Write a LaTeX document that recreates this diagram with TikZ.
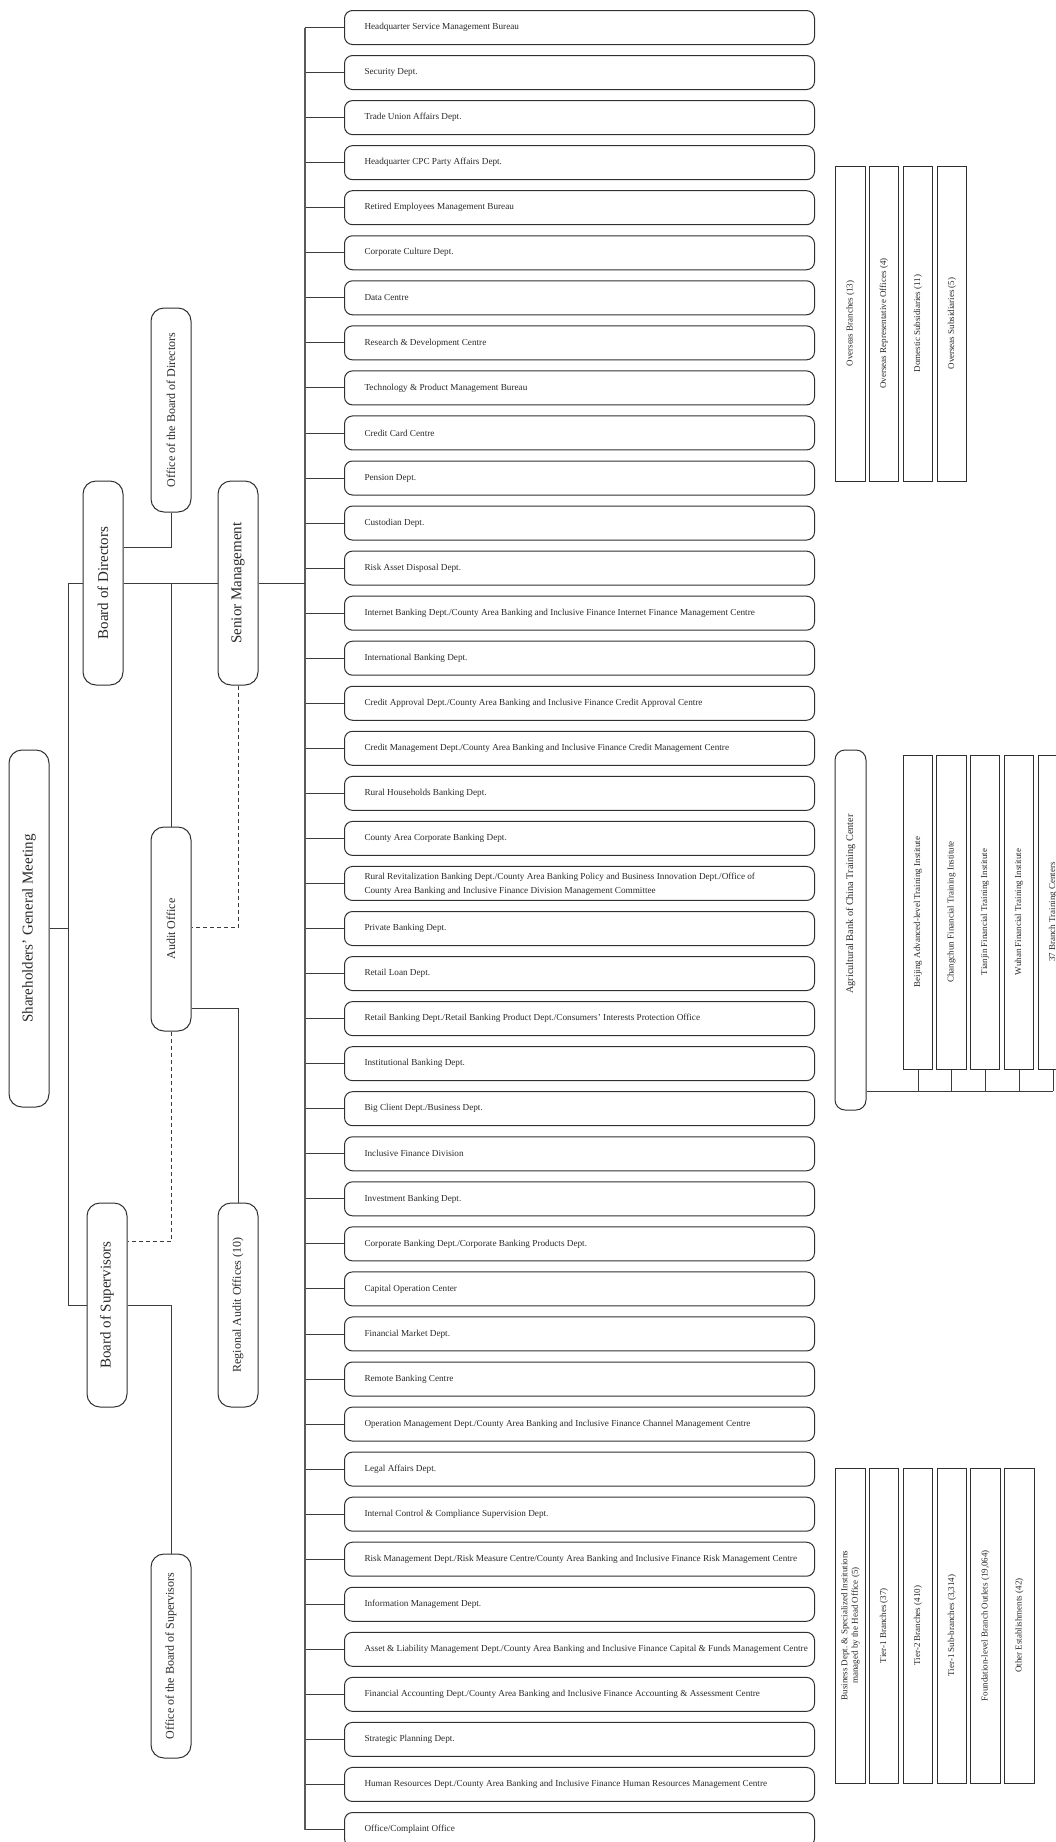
\documentclass[tikz,border=0pt]{standalone}
\usepackage{fontspec}
\usepackage{graphicx}
\setmainfont{Liberation Serif}
\frenchspacing
\definecolor{lncol}{HTML}{3C3C3C}
\definecolor{boxcol}{HTML}{303030}
\definecolor{buscol}{HTML}{5A5A5A}
\definecolor{txtcol}{HTML}{2A2A2A}
\newcommand\fdept{\fontsize{9.2pt}{14pt}\selectfont}
\newcommand\fbigv{\fontsize{15pt}{18pt}\selectfont}
\newcommand\fmidv{\fontsize{12pt}{14pt}\selectfont}
\newcommand\fsmallv{\fontsize{9pt}{10.6pt}\selectfont}
\newcommand\ftcv{\fontsize{10.2pt}{12pt}\selectfont}
\newcommand\rt[1]{\rotatebox{90}{#1}}
\begin{document}
\begin{tikzpicture}[x=1pt,y=-1pt,
  ln/.style={draw=lncol, line width=0.9pt},
  busline/.style={draw=buscol, line width=1.3pt},
  dsh/.style={ln, dash pattern=on 4pt off 3pt},
  dept/.style={draw=boxcol, line width=1pt, rounded corners=8pt, minimum width=470pt,
    minimum height=34pt, inner xsep=20pt, inner ysep=0pt, anchor=west, font=\fdept, text=txtcol},
  vbig/.style={draw=boxcol, line width=1pt, rounded corners=13pt, minimum width=40pt,
    minimum height=204pt, inner sep=0pt, font=\fbigv, text=txtcol},
  vmid/.style={vbig, font=\fmidv},
  subbox/.style={draw=boxcol, line width=1pt, minimum width=29.5pt, minimum height=315pt,
    inner sep=0pt, font=\fsmallv, text=txtcol},
  tcbox/.style={draw=boxcol, line width=1pt, rounded corners=10pt, minimum width=31pt,
    minimum height=360pt, inner sep=0pt, font=\ftcv, text=txtcol}]

\fill[white] (0,0) rectangle (1056,1842);
\useasboundingbox (0,0) rectangle (1056,1842);

% ---------- department list ----------
\coordinate (bus) at (305,0);
\foreach [count=\i from 0] \t in {
 {Headquarter Service Management Bureau},
 {Security Dept.},
 {Trade Union Affairs Dept.},
 {Headquarter CPC Party Affairs Dept.},
 {Retired Employees Management Bureau},
 {Corporate Culture Dept.},
 {Data Centre},
 {Research \& Development Centre},
 {Technology \& Product Management Bureau},
 {Credit Card Centre},
 {Pension Dept.},
 {Custodian Dept.},
 {Risk Asset Disposal Dept.},
 {Internet Banking Dept./County Area Banking and Inclusive Finance Internet Finance Management Centre},
 {International Banking Dept.},
 {Credit Approval Dept./County Area Banking and Inclusive Finance Credit Approval Centre},
 {Credit Management Dept./County Area Banking and Inclusive Finance Credit Management Centre},
 {Rural Households Banking Dept.},
 {County Area Corporate Banking Dept.},
 {\begin{tabular}{@{}l@{}}Rural Revitalization Banking Dept./County Area Banking Policy and Business Innovation Dept./Office of\\County Area Banking and Inclusive Finance Division Management Committee\end{tabular}},
 {Private Banking Dept.},
 {Retail Loan Dept.},
 {Retail Banking Dept./Retail Banking Product Dept./Consumers’ Interests Protection Office},
 {Institutional Banking Dept.},
 {Big Client Dept./Business Dept.},
 {Inclusive Finance Division},
 {Investment Banking Dept.},
 {Corporate Banking Dept./Corporate Banking Products Dept.},
 {Capital Operation Center},
 {Financial Market Dept.},
 {Remote Banking Centre},
 {Operation Management Dept./County Area Banking and Inclusive Finance Channel Management Centre},
 {Legal Affairs Dept.},
 {Internal Control \& Compliance Supervision Dept.},
 {Risk Management Dept./Risk Measure Centre/County Area Banking and Inclusive Finance Risk Management Centre},
 {Information Management Dept.},
 {Asset \& Liability Management Dept./County Area Banking and Inclusive Finance Capital \& Funds Management Centre},
 {Financial Accounting Dept./County Area Banking and Inclusive Finance Accounting \& Assessment Centre},
 {Strategic Planning Dept.},
 {Human Resources Dept./County Area Banking and Inclusive Finance Human Resources Management Centre},
 {Office/Complaint Office}}
{
  \node[dept] (d\i) at (344,{27.5+45.05*\i}) {\makebox[430pt][l]{\t}};
  \draw[ln] (bus|-d\i.west) -- (d\i.west);
}
\draw[busline] (bus|-d0.west) -- (bus|-d40.west);

% ---------- governance column ----------
\node[vbig, minimum height=357pt] (sgm) at (29,928.5) {\rt{Shareholders’ General Meeting}};
\node[vbig] (bod)  at (103,583) {\rt{Board of Directors}};
\node[vmid] (obod) at (171,410) {\rt{Office of the Board of Directors}};
\node[vbig] (sm)   at (238,583) {\rt{Senior Management}};
\node[vmid] (aud)  at (171,929) {\rt{Audit Office}};
\node[vbig] (bos)  at (107,1305) {\rt{Board of Supervisors}};
\node[vmid] (rao)  at (238,1305) {\rt{Regional Audit Offices (10)}};
\node[vmid] (obos) at (171,1656) {\rt{Office of the Board of Supervisors}};

\coordinate (trunk) at (68,0);
\draw[ln] (sgm.east) -- (sgm.east -| trunk);
\draw[ln] (trunk |- bod.west) -- (trunk |- bos.west);
\draw[ln] (trunk |- bod.west) -- (bod.west);
\draw[ln] (trunk |- bos.west) -- (bos.west);
\draw[ln] (bod.east) -- (sm.west);
\draw[ln] (sm.east) -- (bus |- sm.east);
\draw[ln] ([yshift=36pt]bod.east) -| (obod.south);
\draw[ln] (aud.north |- bod.east) -- (aud.north);
\draw[dsh] (sm.south) |- ([yshift=2pt]aud.east);
\draw[ln] ([yshift=-79pt]aud.east) -| (rao.north);
\draw[dsh] (aud.south) |- ([yshift=64pt]bos.east);
\draw[ln] (bos.east) -| (obos.north);

% ---------- overseas ----------
\node[subbox] (ov1) at (850.5,323.5) {\rt{Overseas Branches (13)}};
\node[subbox] (ov2) at (884,323.5)   {\rt{Overseas Representative Offices (4)}};
\node[subbox] (ov3) at (918,323.5)   {\rt{Domestic Subsidiaries (11)}};
\node[subbox] (ov4) at (952,323.5)   {\rt{Overseas Subsidiaries (5)}};

% ---------- training ----------
\node[tcbox] (tc) at (850.5,930) {};
\node[font=\ftcv, text=txtcol, inner sep=0pt] (tct) at ([yshift=26pt]tc.center) {\rt{Agricultural Bank of China Training Center}};
\foreach [count=\j] \xx/\t in {918/{Beijing Advanced-level Training Institute},
  951.5/{Changchun Financial Training Institute},
  985/{Tianjin Financial Training Institute},
  1019/{Wuhan Financial Training Institute},
  1053/{37 Branch Training Centers}}
{
  \node[subbox, minimum height=314pt] (t\j) at (\xx,912) {\rt{\t}};
}
\coordinate (tbus) at (0,1091);
\draw[ln] (tc.east |- tbus) -- (t5.south |- tbus);
\foreach \j in {1,...,5} { \draw[ln] (t\j.south) -- (t\j.south |- tbus); }

% ---------- institutions ----------
\node[subbox] (in1) at (850.5,1625.5) {\rt{\begin{tabular}{@{}c@{}}Business Dept. \& Specialized Institutions\\managed by the Head Office (5)\end{tabular}}};
\node[subbox] (in2) at (884,1625.5)   {\rt{Tier-1 Branches (37)}};
\node[subbox] (in3) at (918,1625.5)   {\rt{Tier-2 Branches (410)}};
\node[subbox] (in4) at (952,1625.5)   {\rt{Tier-1 Sub-branches (3,314)}};
\node[subbox] (in5) at (985.5,1625.5) {\rt{Foundation-level Branch Outlets (19,064)}};
\node[subbox] (in6) at (1019.5,1625.5) {\rt{Other Establishments (42)}};
\end{tikzpicture}
\end{document}
